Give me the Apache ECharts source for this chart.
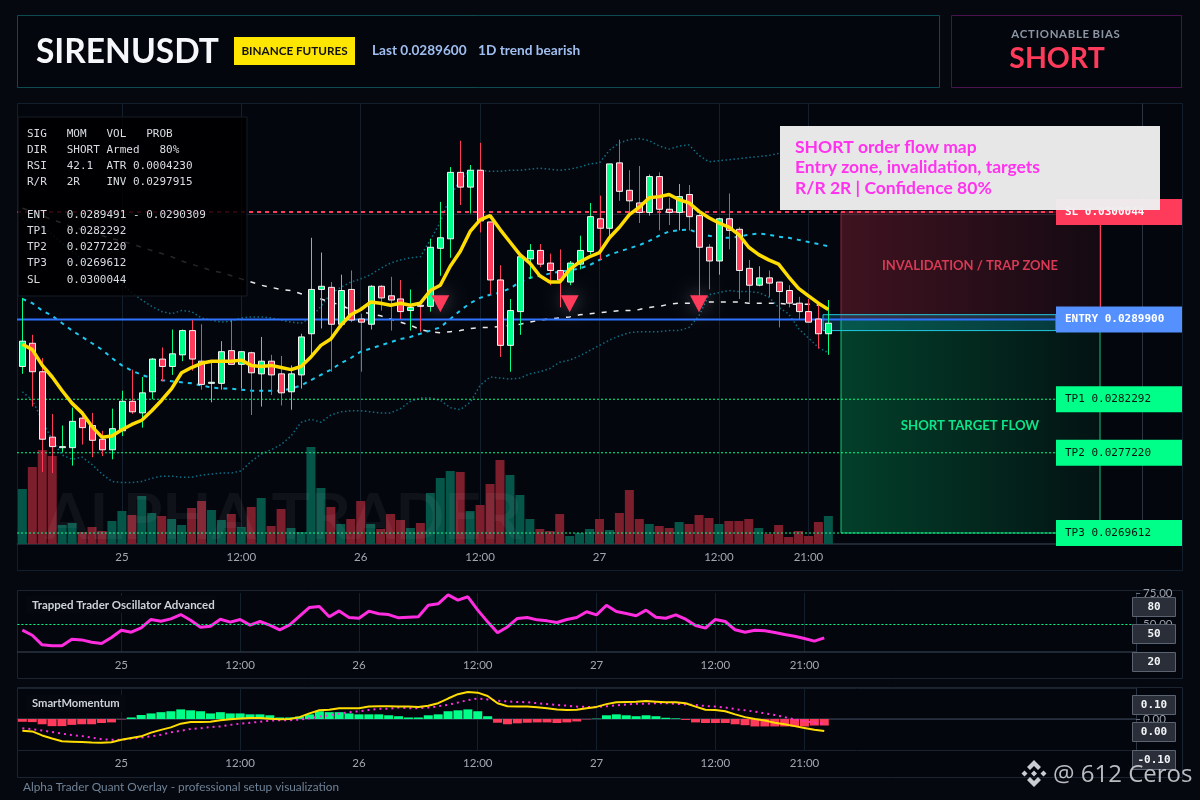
<!DOCTYPE html>
<html><head><meta charset="utf-8">
<script src="https://cdn.jsdelivr.net/npm/echarts@6/dist/echarts.min.js"></script>
<style>html,body{margin:0;padding:0;background:#05080f}#c{width:1200px;height:800px}</style>
</head><body><div id="c"></div>
<script>
// prices below are in units of 0.00001 USDT
const candleOpen=[2854,2876,2849,2787,2777,2777,2805,2798,2785,2775,2793,2821,2810,2830,2861,2854,2865,2888,2859,2838,2838,2869,2856,2867,2847,2859,2847,2830,2846,2885,2927,2929,2894,2927,2899,2894,2930,2921,2918,2907,2912,2911,2966,2975,3038,3024,3040,2991,2936,2874,2906,2956,2964,2952,2945,2934,2951,2963,2994,2985,3047,3021,3009,3000,3034,3003,3000,3017,2997,2967,2954,2994,2984,2947,2931,2938,2934,2926,2914,2906,2899,2885];
const candleClose=[2878,2849,2785,2778,2778,2802,2796,2784,2775,2795,2821,2811,2829,2861,2854,2866,2888,2861,2837,2839,2868,2856,2868,2848,2859,2846,2829,2847,2882,2927,2930,2894,2926,2898,2896,2930,2919,2917,2906,2910,2911,2967,2976,3038,3024,3040,2992,2936,2874,2907,2958,2964,2951,2945,2936,2952,2964,2996,2985,3046,3020,3011,3000,3034,3003,3000,3015,2996,2967,2954,2994,2983,2945,2931,2938,2933,2925,2914,2906,2896,2885,2895];
const candleHigh=[2919,2884,2862,2809,2798,2815,2810,2810,2793,2814,2831,2851,2844,2862,2872,2889,2889,2898,2894,2858,2878,2898,2868,2868,2882,2865,2864,2855,2885,2976,2962,2934,2941,2945,2904,2931,2931,2939,2936,2927,2912,2975,3010,3043,3068,3045,3066,2991,2950,2918,2958,2970,2970,2961,2965,2954,2978,3009,3016,3046,3069,3040,3044,3036,3038,3014,3027,3026,2999,2970,2995,3018,2986,2955,2949,2945,2934,2931,2920,2918,2914,2917];
const candleLow=[2847,2816,2754,2753,2773,2760,2780,2768,2769,2766,2788,2809,2796,2823,2840,2846,2859,2850,2832,2820,2832,2856,2833,2808,2816,2827,2817,2813,2833,2863,2890,2849,2891,2896,2849,2889,2907,2888,2899,2888,2887,2906,2940,2957,3007,2999,2981,2922,2863,2849,2884,2937,2948,2931,2910,2931,2946,2960,2955,2977,3011,3000,2990,2997,2983,2988,2983,2983,2912,2927,2941,2965,2918,2915,2930,2920,2891,2910,2898,2896,2871,2865];
const emaFast=[2875,2870,2855,2844,2831,2819,2810,2797,2787,2788,2794,2799,2803,2812,2822,2833,2848,2853,2857,2859,2859,2859,2860,2855,2854,2855,2853,2851,2854,2863,2874,2880,2893,2903,2908,2915,2914,2912,2914,2912,2914,2926,2931,2949,2963,2982,2993,2997,2984,2972,2960,2952,2940,2934,2934,2946,2953,2958,2962,2976,2986,2998,3005,3014,3015,3017,3012,3009,3001,2995,2990,2986,2979,2967,2960,2955,2951,2939,2928,2921,2914,2908];
const emaMid=[2918,2914,2907,2902,2895,2888,2882,2876,2870,2862,2855,2850,2846,2843,2841,2840,2839,2838,2836,2834,2833,2833,2832,2831,2831,2831,2831,2833,2836,2841,2846,2851,2857,2862,2868,2871,2874,2877,2880,2882,2885,2888,2891,2899,2907,2914,2919,2922,2924,2928,2934,2938,2940,2942,2944,2945,2947,2950,2955,2960,2963,2966,2969,2973,2978,2982,2983,2984,2980,2978,2976,2976,2977,2979,2980,2979,2977,2976,2974,2972,2970,2968];
const emaSlow=[3004,3001,2997,2993,2990,2986,2984,2981,2978,2975,2973,2970,2967,2964,2961,2958,2954,2951,2948,2945,2943,2940,2937,2934,2931,2929,2927,2926,2923,2920,2918,2915,2912,2908,2906,2904,2902,2899,2896,2893,2889,2887,2886,2887,2888,2890,2891,2891,2892,2893,2894,2896,2898,2899,2900,2901,2903,2904,2905,2906,2907,2907,2908,2910,2911,2913,2914,2914,2914,2915,2915,2915,2915,2914,2914,2914,2914,2913,2913,2913,2912,2912];
const bandUpper=[2994,2991,2987,2979,2971,2963,2956,2949,2943,2937,2932,2924,2917,2911,2906,2904,2907,2906,2900,2898,2896,2897,2900,2901,2901,2900,2898,2896,2895,2900,2911,2923,2929,2934,2937,2941,2947,2952,2955,2957,2958,2974,2991,3015,3031,3040,3040,3039,3039,3040,3040,3041,3042,3041,3040,3041,3043,3046,3047,3059,3066,3069,3070,3068,3063,3060,3063,3064,3054,3048,3049,3050,3051,3052,3053,3054,3056,3057,3058,3059,3059,3059];
const bandLower=[2830,2822,2803,2784,2770,2766,2768,2761,2752,2745,2744,2744,2745,2748,2750,2750,2749,2749,2751,2752,2753,2753,2755,2764,2771,2775,2780,2788,2801,2804,2801,2808,2811,2812,2812,2811,2810,2810,2814,2821,2824,2824,2822,2815,2813,2820,2836,2844,2843,2842,2843,2847,2849,2852,2858,2860,2864,2869,2874,2879,2883,2886,2887,2887,2887,2888,2888,2891,2902,2922,2924,2926,2925,2925,2924,2920,2910,2904,2890,2881,2872,2867];
const volume=[55,77,94,88,19,21,12,17,13,23,33,29,48,31,28,25,19,36,43,34,24,30,17,37,46,18,35,16,12,97,56,37,20,25,43,20,15,30,24,16,21,51,66,73,72,33,39,60,84,69,49,25,15,13,30,8,11,15,25,14,31,54,25,20,18,16,22,20,29,26,20,23,23,25,16,10,19,7,13,8,22,28];
const oscillator=[45.5,41.5,33.9,33.1,33.1,38.4,37.8,36.0,34.9,39.7,45.5,43.9,47.4,54.0,52.6,54.5,57.9,53.4,47.9,48.7,54.2,51.9,54.0,49.5,52.4,49.5,45.8,49.7,56.6,63.5,64.3,56.1,60.8,55.6,55.0,60.6,58.5,57.9,55.3,55.8,56.1,65.3,66.4,73.5,69.3,72.0,61.4,52.1,43.4,48.1,54.8,55.6,53.7,52.9,51.6,54.0,55.6,60.1,57.7,65.3,60.3,58.7,56.9,61.4,55.8,55.0,57.7,54.2,49.2,47.1,54.0,52.4,45.8,43.9,45.5,45.0,43.7,42.1,40.7,38.9,36.8,39.4];
const momentumHist=[-.009,-.01,-.017,-.023,-.023,-.019,-.017,-.017,-.013,-.011,-.001,.005,.013,.018,.022,.025,.031,.028,.025,.018,.022,.018,.018,.015,.015,.012,.005,.005,.008,.015,.025,.022,.022,.018,.015,.015,.015,.012,.009,.005,.005,.012,.015,.025,.028,.031,.025,.009,-.012,-.017,-.014,-.012,-.011,-.011,-.013,-.011,-.008,-.001,.001,.012,.015,.012,.009,.012,.009,.004,.002,-.003,-.011,-.013,-.013,-.013,-.017,-.02,-.024,-.024,-.024,-.024,-.024,-.024,-.021,-.021];
const momentumLine=[-.038,-.04,-.053,-.063,-.072,-.073,-.074,-.076,-.077,-.075,-.067,-.061,-.056,-.044,-.035,-.027,-.015,-.01,-.01,-.009,-.004,-.001,.002,.003,.003,.001,-.001,0,.006,.018,.028,.03,.035,.035,.035,.04,.041,.041,.04,.04,.039,.043,.051,.066,.08,.087,.085,.074,.051,.041,.04,.04,.038,.035,.031,.029,.03,.035,.039,.048,.054,.055,.056,.058,.056,.054,.054,.051,.04,.03,.029,.025,.015,.006,0,-.005,-.012,-.017,-.023,-.029,-.035,-.039];
const momentumSignal=[-.03,-.033,-.037,-.042,-.047,-.052,-.055,-.06,-.065,-.067,-.067,-.063,-.06,-.056,-.051,-.043,-.038,-.032,-.03,-.026,-.024,-.019,-.015,-.012,-.009,-.005,-.004,-.004,-.002,.002,.008,.012,.017,.022,.025,.029,.033,.033,.037,.035,.035,.037,.041,.046,.053,.061,.066,.063,.059,.057,.055,.054,.051,.048,.045,.043,.04,.039,.039,.041,.044,.047,.049,.049,.051,.051,.049,.047,.045,.042,.04,.037,.032,.028,.024,.018,.013,.006,-.001,-.006,-.012,-.015];
const markerIndex=[42,55,68];
const markerPrice=[2913.5,2913.5,2913.5];
const tickIndex=[10,22,34,46,58,70,79];
const tickText=['25','12:00','26','12:00','27','12:00','21:00'];
const slotCount=113;
const SL=0.0300044, ENTRY=0.028985, TP1=0.0282292, TP2=0.027722, TP3=0.0269612, ENTRY_TOP=0.0290309, ENTRY_BOTTOM=0.02888, GRID_REF=0.02998;
const infoLines=['SIG   MOM   VOL   PROB','DIR   SHORT Armed   80%','RSI   42.1  ATR 0.0004230','R/R   2R    INV 0.0297915','','ENT   0.0289491 - 0.0290309','TP1   0.0282292','TP2   0.0277220','TP3   0.0269612','SL    0.0300044'];
const noteLines=['SHORT order flow map','Entry zone, invalidation, targets','R/R 2R | Confidence 80%'];
const GREEN='#00ff88', RED='#ff3b5c', SANS='Lato,"Noto Sans",sans-serif', MONO='"DejaVu Sans Mono",monospace';

const P=v=>+(v*1e-5).toFixed(7);
const cats=Array.from({length:slotCount},(_,i)=>String(i));
const labelOf=v=>{const k=tickIndex.indexOf(+v);return k<0?'':tickText[k];};
const isTick=i=>tickIndex.includes(i);
const series=[];
const xCommon=(grid)=>({type:'category',gridIndex:grid,data:cats,boundaryGap:true,
  axisLine:{show:true,lineStyle:{color:'#2b3442',width:1.5}},axisTick:{show:false},
  axisLabel:{interval:(i)=>isTick(i),formatter:labelOf,color:'#a3a8b0',fontSize:11.5,fontFamily:SANS,margin:7,hideOverlap:false},
  splitLine:{show:true,alignWithLabel:true,interval:(i)=>isTick(i),lineStyle:{color:'#13202c',width:1}}});

const candleData=candleOpen.map((o,i)=>[i,P(o),P(candleClose[i]),P(candleLow[i]),P(candleHigh[i])]);
series.push({type:'custom',name:'volume',xAxisIndex:0,yAxisIndex:1,z:2,data:volume.map((v,i)=>[i,v,candleClose[i]>=candleOpen[i]?1:0]),
  encode:{x:0,y:1},renderItem:(p,api)=>{const a=api.coord([api.value(0),api.value(1)]),b=api.coord([api.value(0),0]);
    return {type:'rect',shape:{x:a[0]-4.5,y:a[1],width:9,height:b[1]-a[1]},style:{fill:api.value(2)?'#065549':'#7d1e2d'}};}});
series.push({type:'line',name:'upper',data:bandUpper.map(P),xAxisIndex:0,yAxisIndex:0,showSymbol:false,z:3,lineStyle:{color:'#0f6d84',width:1.5,type:[1.5,2.5]}});
series.push({type:'line',name:'lower',data:bandLower.map(P),xAxisIndex:0,yAxisIndex:0,showSymbol:false,z:3,lineStyle:{color:'#0f6d84',width:1.5,type:[1.5,2.5]}});
series.push({type:'line',name:'slow',data:emaSlow.map(P),xAxisIndex:0,yAxisIndex:0,showSymbol:false,z:3,lineStyle:{color:'#e8e8e8',width:1.5,type:[5,7]}});
series.push({type:'line',name:'mid',data:emaMid.map(P),xAxisIndex:0,yAxisIndex:0,showSymbol:false,z:3,lineStyle:{color:'#1cc8f0',width:2,type:[4,5]}});
series.push({type:'custom',name:'levels',xAxisIndex:0,yAxisIndex:0,z:4,clip:false,data:[[0]],encode:{x:0},
  renderItem:(p,api)=>{
    const y=v=>api.coord([0,v])[1];
    const kids=[];
    const zoneGrad=(r,g,b,a0,a1)=>({type:'linear',x:0,y:0,x2:1,y2:0,colorStops:[{offset:0,color:`rgba(${r},${g},${b},${a0})`},{offset:1,color:`rgba(${r},${g},${b},${a1})`}]});
    kids.push({type:'line',shape:{x1:17,y1:y(GRID_REF),x2:1142,y2:y(GRID_REF)},style:{stroke:'#1a2430',lineWidth:1}});
    kids.push({type:'rect',shape:{x:841,y:y(SL),width:259,height:y(ENTRY)-y(SL)},style:{fill:zoneGrad(255,59,92,.24,.07),stroke:'#8f2439',lineWidth:1}});
    kids.push({type:'rect',shape:{x:841,y:y(ENTRY),width:259,height:y(TP3)-y(ENTRY)},style:{fill:zoneGrad(0,255,136,.23,.05),stroke:'#10c878',lineWidth:1}});
    kids.push({type:'line',shape:{x1:1100.5,y1:y(SL),x2:1100.5,y2:y(ENTRY)},style:{stroke:'#ff3b5c',lineWidth:1}});
    kids.push({type:'rect',shape:{x:823,y:y(ENTRY_TOP),width:233,height:y(ENTRY_BOTTOM)-y(ENTRY_TOP)},style:{fill:'rgba(20,190,220,.2)',stroke:'#22c8e0',lineWidth:1}});
    kids.push({type:'line',shape:{x1:17,y1:y(SL),x2:1056,y2:y(SL)},style:{stroke:RED,lineWidth:2,lineDash:[4,4]}});
    kids.push({type:'line',shape:{x1:17,y1:y(ENTRY),x2:1056,y2:y(ENTRY)},style:{stroke:'#2f73ff',lineWidth:2}});
    [TP1,TP2,TP3].forEach(v=>kids.push({type:'line',shape:{x1:17,y1:y(v),x2:1056,y2:y(v)},style:{stroke:GREEN,lineWidth:1,lineDash:[2,2]}}));
    const tag=(v,txt,bg,fg,bold)=>{kids.push({type:'rect',shape:{x:1056,y:y(v)-13,width:126,height:26},style:{fill:bg}});
      kids.push({type:'text',x:1065,y:y(v),style:{text:txt,fill:fg,font:(bold?'bold ':'')+'11px '+MONO,textAlign:'left',textVerticalAlign:'middle'}});};
    tag(SL,'SL 0.0300044',RED,'#ffffff',true);
    tag(ENTRY,'ENTRY 0.0289900','#5590ff','#ffffff',true);
    tag(TP1,'TP1 0.0282292',GREEN,'#06140f',false);
    tag(TP2,'TP2 0.0277220',GREEN,'#06140f',false);
    tag(TP3,'TP3 0.0269612',GREEN,'#06140f',false);
    return {type:'group',children:kids};
  }});
series.push({type:'custom',name:'candles',xAxisIndex:0,yAxisIndex:0,z:5,data:candleData,encode:{x:0,y:[1,2,3,4]},
  renderItem:(p,api)=>{const i=api.value(0),o=api.value(1),c=api.value(2),l=api.value(3),h=api.value(4);
    const x=api.coord([i,o])[0],yo=api.coord([i,o])[1],yc=api.coord([i,c])[1],yl=api.coord([i,l])[1],yh=api.coord([i,h])[1];
    const col=c>=o?GREEN:RED,top=Math.min(yo,yc),ht=Math.max(1,Math.abs(yo-yc));
    return {type:'group',children:[
      {type:'line',shape:{x1:Math.round(x)+.5,y1:yh,x2:Math.round(x)+.5,y2:yl},style:{stroke:col,lineWidth:1}},
      {type:'rect',shape:{x:Math.round(x)-2.5,y:top,width:6,height:ht},style:{fill:col,stroke:'#f4f4f4',lineWidth:1}}]};}});
series.push({type:'line',name:'fast',data:emaFast.map(P),xAxisIndex:0,yAxisIndex:0,showSymbol:false,z:6,lineStyle:{color:'#ffdd00',width:3.5}});
series.push({type:'scatter',name:'short signal',xAxisIndex:0,yAxisIndex:0,z:7,data:markerIndex.map((x,k)=>[x,P(markerPrice[k])]),
  symbol:'triangle',symbolRotate:180,symbolSize:[18,17],itemStyle:{color:RED,opacity:1,shadowBlur:18,shadowColor:'rgba(255,255,255,.35)'}});
series.push({type:'line',name:'oscillator',data:oscillator,xAxisIndex:1,yAxisIndex:2,showSymbol:false,z:4,lineStyle:{color:'#ff2de0',width:3},
  markLine:{silent:true,symbol:'none',label:{show:false},animation:false,data:[{yAxis:50}],lineStyle:{color:GREEN,type:[2,2],width:1}}});
series.push({type:'bar',name:'hist',data:momentumHist.map(v=>({value:v,itemStyle:{color:v>=0?GREEN:RED}})),xAxisIndex:2,yAxisIndex:3,barWidth:9,z:2});
series.push({type:'line',name:'signal',data:momentumSignal,xAxisIndex:2,yAxisIndex:3,showSymbol:false,z:3,lineStyle:{color:'#ff2de0',width:2,type:[2,4]}});
series.push({type:'line',name:'momentum',data:momentumLine,xAxisIndex:2,yAxisIndex:3,showSymbol:false,z:4,lineStyle:{color:'#ffdd00',width:2}});

const frame=(x,y,w,h,stroke,fill)=>({type:'rect',silent:true,z:-1,shape:{x:x+.5,y:y+.5,width:w,height:h},style:{fill:fill||'#03060d',stroke,lineWidth:1}});
const txt=(x,y,text,font,fill,extra,z)=>({type:'text',silent:true,z:z==null?50:z,x,y,style:Object.assign({text,font,fill,textAlign:'left',textVerticalAlign:'middle'},extra||{})});
const box=(x,y,w,h,fill,stroke,z)=>({type:'rect',silent:true,z:z==null?50:z,shape:{x,y,width:w,height:h},style:{fill,stroke:stroke||'none',lineWidth:1}});
const paneTag=(y,t)=>[box(1132.5,y+.5,43,19,'#2a2e38','#5b6270',60),txt(1154,y+10,t,'bold 11px '+MONO,'#f2f4f6',{textAlign:'center'},61)];
const logo=[
  [[1034,760],[1041,767],[1038,770],[1034,766],[1030,770],[1027,767]],
  [[1034,787],[1041,780],[1038,777],[1034,781],[1030,777],[1027,780]],
  [[1024.5,770.5],[1027.5,773.5],[1024.5,776.5],[1021.5,773.5]],
  [[1043.5,770.5],[1046.5,773.5],[1043.5,776.5],[1040.5,773.5]],
  [[1034,770.5],[1037,773.5],[1034,776.5],[1031,773.5]]
];
const g=[
  frame(17,15,922,72,'#0e4a52'),
  frame(951,15,230,72,'#4a134f'),
  frame(17,103,1165,467,'#141f2d'),
  frame(17,590,1165,88,'#1b2532'),
  frame(17,687,1165,90,'#1b2532'),
  txt(36,52,'SIRENUSDT','bold 33.5px '+SANS,'#f5f7fa',{shadowBlur:14,shadowColor:'rgba(120,220,255,.45)'}),
  box(234,37,121,28,'#ffe600'),
  txt(294.5,51,'BINANCE FUTURES','bold 11.7px '+SANS,'#111',{textAlign:'center'}),
  txt(372,51,'Last 0.0289600','bold 13.6px '+SANS,'#a0bff0'),
  txt(478,51,'1D trend bearish','bold 13.7px '+SANS,'#a0bff0'),
  txt(1065.5,34,'A\u200AC\u200AT\u200AI\u200AO\u200AN\u200AA\u200AB\u200AL\u200AE\u200A B\u200AI\u200AA\u200AS','bold 11.4px '+SANS,'#8d95a3',{textAlign:'center'}),
  txt(1057,59,'SHORT','bold 28.5px '+SANS,RED,{textAlign:'center',shadowBlur:12,shadowColor:'rgba(255,59,92,.6)'}),
  txt(45,518,'ALPHA TRADER','bold 64px '+SANS,'rgba(255,255,255,.05)',{},40),
  box(18,117,229,179,'rgba(0,0,0,.84)','#161d26',45),
  ...infoLines.map((l,i)=>txt(27,134+i*16.2,l,'11px '+MONO,'#d9dde2')),
  txt(970,266,'INVALIDATION / TRAP ZONE','bold 13px '+SANS,'#d83a55',{textAlign:'center'}),
  txt(970,426,'SHORT TARGET FLOW','bold 13.2px '+SANS,'#0fe387',{textAlign:'center'}),
  box(780,126,380,84,'rgba(238,238,240,.97)',null,70),
  ...noteLines.map((l,i)=>txt(795,147+i*20.6,l,'bold 17.5px '+SANS,'#ff33ee',{},71)),
  {type:'line',silent:true,z:1,shape:{x1:1142,y1:544,x2:1182,y2:544},style:{stroke:'#2b3442',lineWidth:1.5}},
  box(26,596,190,17,'#05080f',null,50),
  txt(32,605,'Trapped Trader Oscillator Advanced','bold 11.5px '+SANS,'#cdd2d8',{},51),
  box(26,695,100,17,'#05080f',null,50),
  txt(32,703,'SmartMomentum','bold 11.2px '+SANS,'#cdd2d8',{},51),
  ...paneTag(597,'80'),...paneTag(624,'50'),...paneTag(652,'20'),
  ...paneTag(695,'0.10'),...paneTag(722,'0.00'),...paneTag(750,'-0.10'),
  txt(23,787,'Alpha Trader Quant Overlay - professional setup visualization','11.8px '+SANS,'#6f8296'),
  ...logo.map(points=>({type:'polygon',silent:true,z:80,shape:{points},style:{fill:'#c9ccd0'}})),
  txt(1053,775,'@ 612 Ceros','24px "Open Sans",sans-serif','rgba(205,208,212,.9)',{},80)
];

const chart=echarts.init(document.getElementById('c'),null,{renderer:'canvas'});
chart.setOption({
  animation:false,backgroundColor:'#05080f',graphic:{elements:g},
  grid:[{left:17.4,top:104,width:1124.4,height:440},{left:17.4,top:593,width:1118.7,height:59},{left:17.4,top:688,width:1118.7,height:62}],
  xAxis:[xCommon(0),xCommon(1),xCommon(2)],
  yAxis:[
    {type:'value',gridIndex:0,position:'right',min:0.026857,max:0.031028,axisLabel:{show:false},axisTick:{show:false},splitLine:{show:false},axisLine:{show:true,lineStyle:{color:'#2b3442',width:1}}},
    {type:'value',gridIndex:0,position:'left',min:0,max:440,show:false,splitLine:{show:false}},
    {type:'value',gridIndex:1,position:'right',min:28.2,max:75,axisLine:{show:true,lineStyle:{color:'#2b3442'}},axisTick:{show:true,length:4,customValues:[50,75],lineStyle:{color:'#6a7280'}},
      axisLabel:{customValues:[50,75],formatter:v=>v.toFixed(2),color:'#9aa1ab',fontSize:11.5,fontFamily:SANS,margin:7},splitLine:{show:false}},
    {type:'value',gridIndex:2,position:'right',min:-0.1,max:0.1,interval:0.1,axisLine:{show:true,lineStyle:{color:'#2b3442'}},axisTick:{show:true,length:4,lineStyle:{color:'#6a7280'}},
      axisLabel:{formatter:v=>v.toFixed(2),showMaxLabel:false,showMinLabel:false,color:'#9aa1ab',fontSize:11.5,fontFamily:SANS,margin:7},splitLine:{show:true,lineStyle:{color:'#1a2230'}}}
  ],
  series
});
</script></body></html>
